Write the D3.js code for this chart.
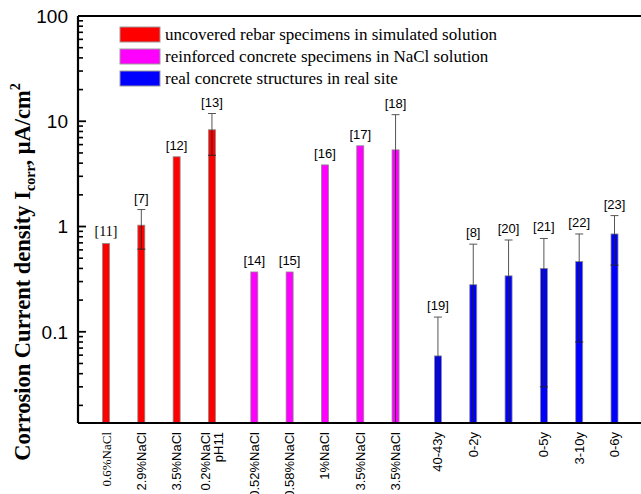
<!DOCTYPE html>
<html><head><meta charset="utf-8">
<script src="https://cdn.jsdelivr.net/npm/d3@7"></script>
<style>html,body{margin:0;padding:0;background:#fff;}svg{display:block;}</style>
</head><body>
<script>
// ---- data ----
const labels = ["0.6%NaCl","2.9%NaCl","3.5%NaCl","0.2%NaCl|pH11","0.52%NaCl","0.58%NaCl","1%NaCl","3.5%NaCl","3.5%NaCl","40-43y","0-2y","","0-5y","3-10y","0-6y"];
const refs = ["[11]","[7]","[12]","[13]","[14]","[15]","[16]","[17]","[18]","[19]","[8]","[20]","[21]","[22]","[23]"];
const values = [0.69,1.03,4.6,8.3,0.37,0.37,3.85,5.85,5.35,0.059,0.28,0.34,0.40,0.465,0.85];
const errors = [0,0.42,0,3.55,0,0,0,0,6.2,0.079,0.40,0.405,0.37,0.385,0.42];
const groups = [0,0,0,0,1,1,1,1,1,2,2,2,2,2,2];
const groupNames = ["uncovered rebar specimens in simulated solution","reinforced concrete specimens in NaCl solution","real concrete structures in real site"];
const groupColors = ["#ff0000","#ff00ff","#0000ff"];
const yTicks = [0.1,1,10,100];
const yTickLabels = ["0.1","1","10","100"];
const yDomain = [0.0136,100];

const W=641,H=494;
const svg=d3.select("body").append("svg").attr("width",W).attr("height",H);
const plot={left:78,top:16,bottom:423,right:700};
const SANS="'Liberation Sans',Arial,sans-serif", SERIF="'Liberation Serif','Times New Roman',serif";

const slots = values.map((v,i)=>i+groups[i]*0.2);
const x=d3.scaleLinear().domain([0,d3.max(slots)]).range([106,614.5]);
const y=d3.scaleLog().domain(yDomain).range([plot.bottom,plot.top]);
const bw=7;

// legend
const lg=svg.append("g");
groupNames.forEach((n,i)=>{
  const yy=27+i*22;
  lg.append("rect").attr("x",120).attr("y",yy).attr("width",40).attr("height",15)
    .attr("fill",groupColors[i]).attr("stroke","#999").attr("stroke-width",1);
  lg.append("text").attr("x",165).attr("y",yy+13).text(n)
    .attr("font-family",SERIF).attr("font-size",17).attr("fill","#000");
});

// bars
const bars=svg.append("g");
values.forEach((v,i)=>{
  const cx=x(slots[i]);
  const fam = i===0 ? SERIF : SANS;
  bars.append("rect").attr("x",cx-bw/2).attr("y",y(v)).attr("width",bw).attr("height",plot.bottom-y(v))
    .attr("fill",groupColors[groups[i]]).attr("stroke","#8a8a8a").attr("stroke-width",0.8);
  let topY=y(v);
  if(errors[i]>0){
    const hi=v+errors[i], lo=v-errors[i];
    const yl = lo>yDomain[0]? y(lo): plot.bottom;
    const yh = y(hi);
    const col="#555";
    bars.append("line").attr("x1",cx).attr("x2",cx).attr("y1",yh).attr("y2",y(v)).attr("stroke",col).attr("stroke-width",1);
    bars.append("line").attr("x1",cx).attr("x2",cx).attr("y1",y(v)).attr("y2",yl).attr("stroke","#222").attr("stroke-width",0.9);
    bars.append("line").attr("x1",cx-4).attr("x2",cx+4).attr("y1",yh).attr("y2",yh).attr("stroke",col).attr("stroke-width",1);
    if(lo>yDomain[0]) bars.append("line").attr("x1",cx-4).attr("x2",cx+4).attr("y1",yl).attr("y2",yl).attr("stroke","#222").attr("stroke-width",0.9);
    topY=yh;
  }
  bars.append("text").attr("x",cx).attr("y",topY-7).attr("text-anchor","middle")
    .attr("font-family",fam).attr("font-size",i===0?14:13).text(refs[i]);
  // x labels
  const parts=labels[i].split("|");
  parts.forEach((p,k)=>{
    const lx=cx + (k-(parts.length-1)/2)*13;
    bars.append("text").attr("transform",`translate(${lx+4.5},432) rotate(-90)`)
      .attr("text-anchor","end").attr("font-family",fam)
      .attr("font-size",13).text(p);
  });
});

// axes frame
const ax=svg.append("g");
ax.append("line").attr("x1",plot.left).attr("x2",W+10).attr("y1",plot.top).attr("y2",plot.top).attr("stroke","#000").attr("stroke-width",2.2);
ax.append("line").attr("x1",plot.left).attr("x2",W+10).attr("y1",plot.bottom).attr("y2",plot.bottom).attr("stroke","#000").attr("stroke-width",2.2);
ax.append("line").attr("x1",plot.left).attr("x2",plot.left).attr("y1",plot.top).attr("y2",plot.bottom).attr("stroke","#000").attr("stroke-width",2.2);

// minor ticks
for(let e=-2;e<2;e++){
  for(let k=2;k<=9;k++){
    const v=k*Math.pow(10,e);
    if(v>yDomain[0]&&v<yDomain[1]){
      ax.append("line").attr("x1",plot.left).attr("x2",plot.left+5).attr("y1",y(v)).attr("y2",y(v)).attr("stroke","#000").attr("stroke-width",1.6);
    }
  }
}
yTicks.forEach((t,i)=>{
  ax.append("line").attr("x1",plot.left).attr("x2",plot.left+8).attr("y1",y(t)).attr("y2",y(t)).attr("stroke","#000").attr("stroke-width",1.8);
  ax.append("text").attr("x",plot.left-10).attr("y",y(t)).attr("dy","0.36em").attr("text-anchor","end")
    .attr("font-family",SANS).attr("font-size",19).text(yTickLabels[i]);
});

// y title
const tt=svg.append("text").attr("transform","translate(30,272) rotate(-90)").attr("text-anchor","middle")
  .attr("font-family",SERIF).attr("font-weight","bold").attr("font-size",22.5);
tt.append("tspan").text("Corrosion Current density I");
tt.append("tspan").attr("font-size",14).attr("dy",5).text("corr");
tt.append("tspan").attr("dy",-5).text(", μA/cm");
tt.append("tspan").attr("font-size",14).attr("dy",-10).text("2");
</script>
</body></html>
